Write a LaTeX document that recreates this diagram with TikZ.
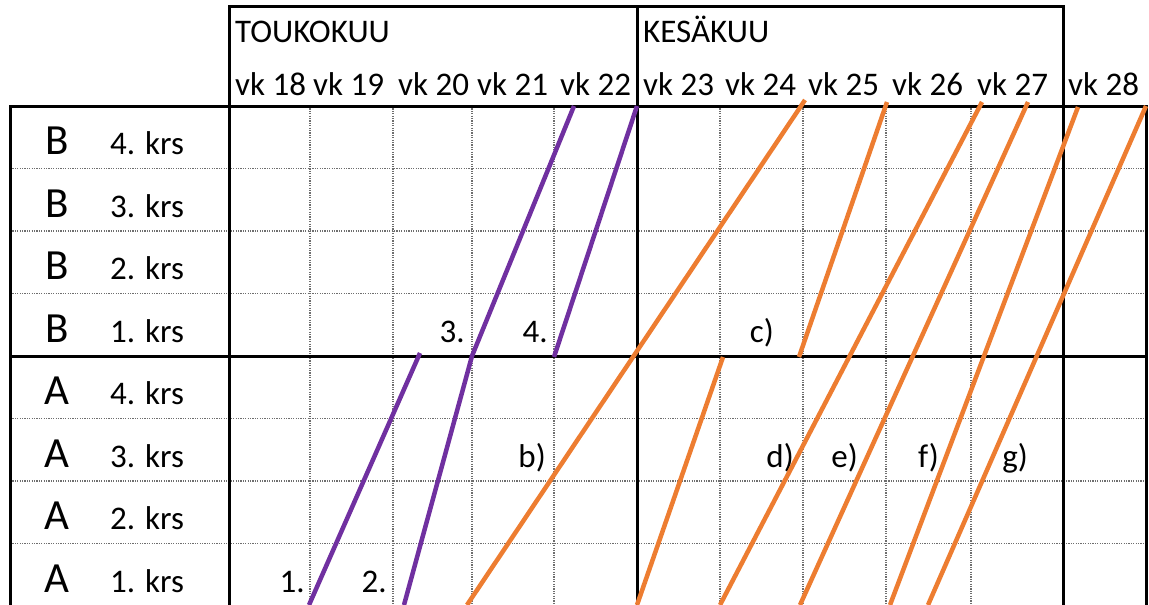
\documentclass[tikz,border=0pt]{standalone}
\usepackage{fontspec}
\setmainfont{Carlito}
\usetikzlibrary{positioning}
\definecolor{phaseone}{HTML}{7030A0}
\definecolor{phasetwo}{HTML}{ED7D31}
\definecolor{gridgray}{HTML}{6E6E6E}
\tikzset{
  frame/.style={line width=3pt, draw=black},
  gridline/.style={line width=1.8pt, draw=gridgray, dash pattern=on 1.2pt off 1.2pt},
  purpleline/.style={line width=4.5pt, draw=phaseone},
  orangeline/.style={line width=4.5pt, draw=phasetwo},
  monthlbl/.style={anchor=base west, inner sep=0pt, font=\fontsize{33}{36}\selectfont},
  weeklbl/.style={monthlbl},
  floorlbl/.style={monthlbl},
  blocklbl/.style={anchor=base, inner sep=0pt, font=\fontsize{43}{46}\selectfont},
  startlbl/.style={anchor=base east, inner sep=0pt, font=\fontsize{33}{36}\selectfont}
}

\begin{document}
\begin{tikzpicture}[x=1pt,y=-1pt]
  \useasboundingbox (0,0) rectangle (1149,605);
  \clip (0,0) rectangle (1149,605);
  % cell grid
  \foreach \y in {168.5,231,293.5,418.5,481,543.5}
    \draw[gridline] (10,\y) -- (1146,\y);
  \foreach \x in {310,393,472,554,720,803,886,971}
    \draw[gridline] (\x,106) -- (\x,612);
  % frames
  \draw[frame] (10,612) -- (10,106) -- (1146,106) -- (1146,612);
  \draw[frame] (229,612) -- (229,6) -- (1063,6) -- (1063,612);
  \draw[frame] (637,6) -- (637,612);
  \draw[frame] (10,356) -- (1146,356);

  % header
  \node[monthlbl] (may) at (235,42) {TOUKOKUU};
  \node[monthlbl] (june) at (643,42) {KESÄKUU};
  \foreach \w/\x in {18/235,19/313,20/398,21/477,22/560,23/643,24/725,25/808,26/892,27/977,28/1068}
    \node[weeklbl] (vk\w) at (\x,95) {vk \w};

  % rows
  \foreach \b/\f/\y in {B/4/154,B/3/217,B/2/279,B/1/342,A/4/404,A/3/467,A/2/529,A/1/592}{
    \node[blocklbl] (blk\b\f) at (57,\y) {\b};
    \node[floorlbl] (krs\b\f) at (110,\y) {\f. krs};
  }

  % phase marks
  \node[startlbl] (s1) at (305,592) {1.};
  \node[startlbl] (s2) at (387,592) {2.};
  \node[startlbl] (s3) at (465,342) {3.};
  \node[startlbl] (s4) at (548,342) {4.};
  \node[startlbl] (sb) at (546,467) {b)};
  \node[startlbl] (sc) at (774,342) {c)};
  \node[startlbl] (sd) at (794,467) {d)};
  \node[startlbl] (se) at (858,467) {e)};
  \node[startlbl] (sf) at (939,467) {f)};
  \node[startlbl] (sg) at (1028,467) {g)};

  % progress lines
  \draw[purpleline] (309,605) -- (420,353);
  \draw[purpleline] (404,605) -- (472,356) -- (574,106);
  \draw[purpleline] (554,357) -- (637,106);
  \draw[orangeline] (467,605) -- (805,100);
  \draw[orangeline] (637,605) -- (723,357);
  \draw[orangeline] (799,357) -- (887,102);
  \draw[orangeline] (720,605) -- (982,102);
  \draw[orangeline] (800,605) -- (1028,102);
  \draw[orangeline] (890,605) -- (1078,107);
  \draw[orangeline] (928,605) -- (1146,106);
\end{tikzpicture}
\end{document}
